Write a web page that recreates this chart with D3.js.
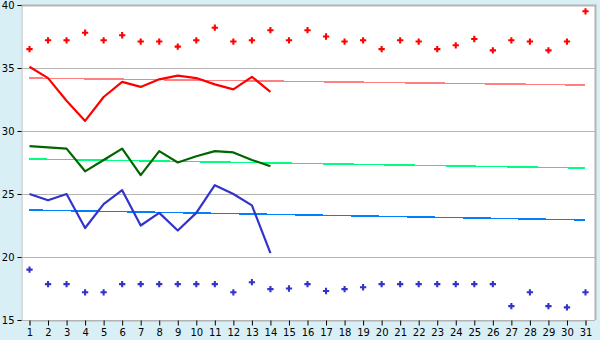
<!DOCTYPE html>
<html>
<head>
<meta charset="utf-8">
<script src="https://cdn.jsdelivr.net/npm/d3@7"></script>
<style>
  html, body { margin: 0; padding: 0; background: #d9eff6; }
  svg { display: block; }
  text { font-family: "DejaVu Sans", Verdana, sans-serif; font-size: 10px; fill: #000; }
</style>
</head>
<body>
<div id="chart"></div>
<script>
// 날짜 (1 ~ 31)
const days = d3.range(1, 32);
const yTicks = [15, 20, 25, 30, 35, 40];

// 상단 빨간 점
const redDots = [36.5, 37.2, 37.2, 37.8, 37.2, 37.6, 37.1, 37.1, 36.7, 37.2,
  38.2, 37.1, 37.2, 38.0, 37.2, 38.0, 37.5, 37.1, 37.2, 36.5,
  37.2, 37.1, 36.5, 36.8, 37.3, 36.4, 37.2, 37.1, 36.4, 37.1, 39.5];

// 하단 파란 점
const blueDots = [19.0, 17.85, 17.85, 17.2, 17.2, 17.85, 17.85, 17.85, 17.85, 17.85,
  17.85, 17.2, 18.0, 17.45, 17.5, 17.85, 17.3, 17.45, 17.6, 17.85,
  17.85, 17.85, 17.85, 17.85, 17.85, 17.85, 16.1, 17.2, 16.1, 16.0, 17.2];

// 1 ~ 14일 선 데이터
const redLine = [35.1, 34.2, 32.4, 30.8, 32.7, 33.9, 33.5, 34.1, 34.4, 34.2, 33.7, 33.3, 34.3, 33.1];
const greenLine = [28.8, 28.7, 28.6, 26.8, 27.7, 28.6, 26.5, 28.4, 27.5, 28.0, 28.4, 28.3, 27.7, 27.2];
const blueLine = [25.0, 24.5, 25.0, 22.3, 24.2, 25.3, 22.5, 23.5, 22.1, 23.5, 25.7, 25.0, 24.1, 20.3];

// 추세선 (1일, 31일 값)
const trendDays = [1, 31];
const redTrend = [34.2, 33.65];
const greenTrend = [27.78, 27.06];
const blueTrend = [23.73, 22.94];

const W = 600, H = 340;
const plot = { left: 21, right: 595, top: 5, bottom: 320 };

const svg = d3.select('#chart').append('svg')
  .attr('width', W).attr('height', H);

svg.append('rect')
  .attr('x', plot.left).attr('y', plot.top)
  .attr('width', plot.right - plot.left).attr('height', plot.bottom - plot.top)
  .style('fill', '#fff');

const x = d3.scalePoint().domain(days).range([29.5, 585.5]);
const y = d3.scaleLinear().domain([15, 40]).range([plot.bottom, plot.top]);

// 그리드
svg.append('g').selectAll('line')
  .data(yTicks)
  .join('line')
  .attr('x1', plot.left).attr('x2', plot.right)
  .attr('y1', d => Math.round(y(d)) + 0.5).attr('y2', d => Math.round(y(d)) + 0.5)
  .style('stroke', '#b4b4b4')
  .style('stroke-width', 1);

// 테두리 (위, 오른쪽)
svg.append('path')
  .attr('d', `M${plot.left},${plot.top + 0.5}H${plot.right + 0.5}V${plot.bottom}`)
  .style('fill', 'none')
  .style('stroke', '#b4b4b4')
  .style('stroke-width', 2);

// 축
const yAxis = svg.append('g')
  .attr('transform', `translate(${plot.left + 0.5},0)`)
  .call(d3.axisLeft(y).tickValues(yTicks).tickSize(4).tickPadding(3));
const xAxis = svg.append('g')
  .attr('transform', `translate(0,${plot.bottom + 0.5})`)
  .call(d3.axisBottom(x).tickSize(5).tickPadding(3));

[yAxis, xAxis].forEach(a => {
  a.select('.domain').style('stroke', '#b4b4b4');
  a.selectAll('.tick line').style('stroke', '#000');
  a.selectAll('text').style('font-family', '"DejaVu Sans", Verdana, sans-serif').style('font-size', '10px');
});

// 추세선
const trendLine = d3.line().x((d, i) => x(trendDays[i])).y(d => y(d));
[[redTrend, '#ff8080'], [greenTrend, '#00ff80'], [blueTrend, '#0080ff']].forEach(([data, color]) => {
  svg.append('path')
    .datum(data)
    .attr('d', trendLine)
    .style('fill', 'none')
    .style('stroke', color)
    .style('stroke-width', 1.5)
    .style('shape-rendering', 'crispEdges');
});

// 데이터 선
const seriesLine = d3.line().x((d, i) => x(days[i])).y(d => y(d));
[[redLine, '#ff0000'], [greenLine, '#006600'], [blueLine, '#3333cc']].forEach(([data, color]) => {
  svg.append('path')
    .datum(data)
    .attr('d', seriesLine)
    .style('fill', 'none')
    .style('stroke', color)
    .style('stroke-width', 2.2)
    .style('stroke-linejoin', 'round');
});

// 점 (십자형 다이아몬드)
const marker = d3.symbol().type(d3.symbolCross).size(22);
[[redDots, '#ff0000'], [blueDots, '#3333cc']].forEach(([data, color]) => {
  svg.append('g').selectAll('path')
    .data(data)
    .join('path')
    .attr('transform', (d, i) => `translate(${x(days[i])},${y(d)})`)
    .attr('d', marker)
    .style('fill', color);
});
</script>
</body>
</html>
